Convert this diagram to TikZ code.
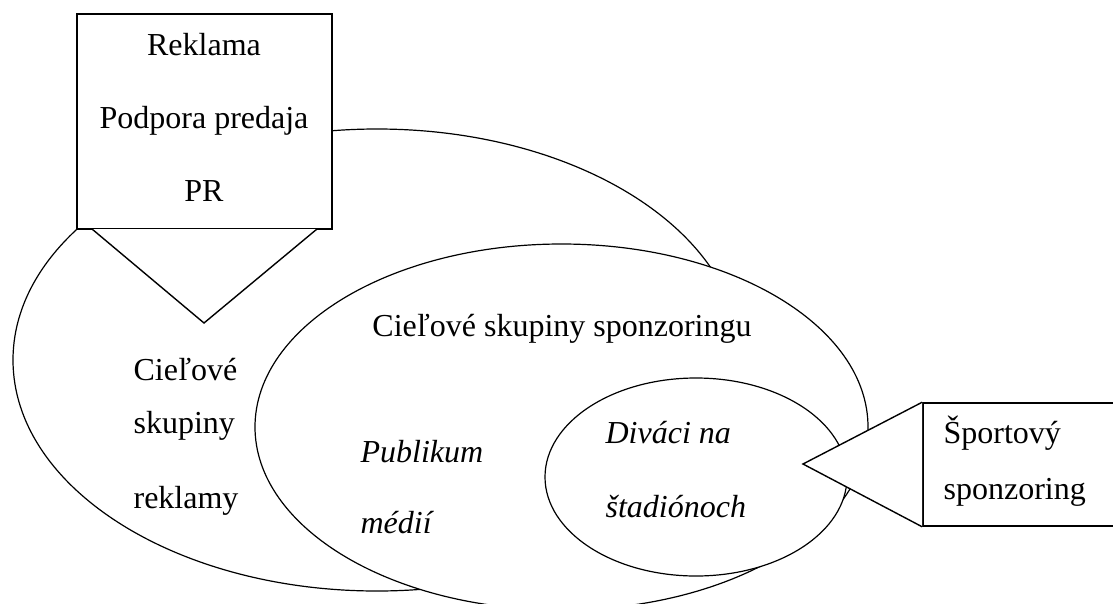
\documentclass[tikz,border=0pt]{standalone}
\usepackage{fontspec}
\setmainfont{Liberation Serif}
\usetikzlibrary{shapes.geometric}
\begin{document}
\begin{tikzpicture}[x=1pt,y=-1pt,
  line width=1.2pt,
  oval/.style={ellipse, draw, fill=white, inner sep=0pt},
  boxshape/.style={rectangle, draw, fill=white, inner sep=0pt, line width=1.6pt},
  callout/.style={draw, fill=white, line width=1.4pt},
  lbl/.style={inner sep=0pt, font=\fontsize{32}{38}\selectfont},
  ilbl/.style={lbl, font=\fontsize{32}{38}\selectfont\itshape}]
\clip (0,0) rectangle (1113,603);
\useasboundingbox (0,0) rectangle (1113,603);
% big ellipse
\node[oval, minimum width=728pt, minimum height=462pt] (big) at (377,360) {};
% top callout
\coordinate (ttip) at (204,323);
\node[boxshape, minimum width=255pt, minimum height=215pt] (adbox) at (204.5,121.5) {};
\draw[callout] (92,229) -- (ttip) -- (317,229);
% middle ellipse
\node[oval, minimum width=613pt, minimum height=366pt] (mid) at (561.5,427) {};
% small ellipse
\node[oval, minimum width=302pt, minimum height=198pt] (small) at (696,477) {};
% right callout
\coordinate (rtip) at (803,464);
\node[boxshape, minimum width=200pt, minimum height=123pt] (spbox) at (1023,464.5) {};
\draw[callout] (spbox.north west) -- (rtip) -- (spbox.south west);
% texts
\node[lbl, anchor=base] (t1) at (204,55) {Reklama};
\node[lbl, anchor=base] (t2) at (204,128) {Podpora predaja};
\node[lbl, anchor=base] (t3) at (204,201) {PR};
\node[lbl, anchor=base west] (t4) at (133,380) {Cieľové};
\node[lbl, anchor=base west] (t5) at (133,433) {skupiny};
\node[lbl, anchor=base west] (t6) at (133,508) {reklamy};
\node[lbl, anchor=base] (t7) at (562,336) {Cieľové skupiny sponzoringu};
\node[ilbl, anchor=base west] (t8) at (360,462) {Publikum};
\node[ilbl, anchor=base west] (t9) at (360,533) {médií};
\node[ilbl, anchor=base west] (t10) at (605,443) {Diváci na};
\node[ilbl, anchor=base west] (t11) at (605,517) {štadiónoch};
\node[lbl, anchor=base west] (t12) at (943,443) {Športový};
\node[lbl, anchor=base west] (t13) at (943,499) {sponzoring};
\end{tikzpicture}
\end{document}
